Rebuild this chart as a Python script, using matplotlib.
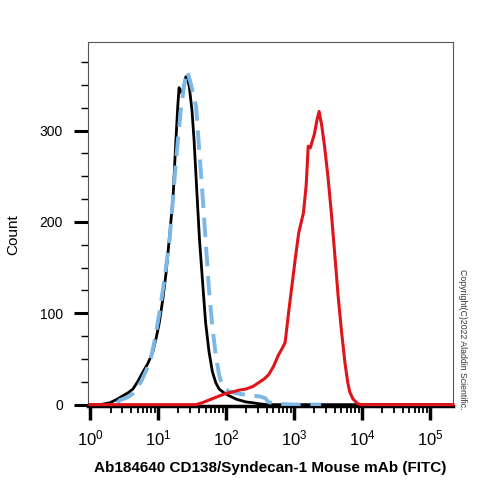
import numpy as np
import matplotlib.pyplot as plt
from matplotlib.ticker import FixedLocator, NullFormatter

plt.rcParams['font.family'] = ['Liberation Sans', 'DejaVu Sans']
plt.rcParams['mathtext.fontset'] = 'custom'
plt.rcParams['mathtext.rm'] = 'Liberation Sans'
plt.rcParams['mathtext.it'] = 'Liberation Sans'

# log10 positions and counts
black_log = [0.0, 0.15, 0.22, 0.29, 0.40, 0.49, 0.56, 0.63, 0.70, 0.78, 0.85, 0.92, 0.97, 1.02,
             1.07, 1.12, 1.17, 1.22, 1.26, 1.29, 1.31, 1.33, 1.36, 1.39, 1.41, 1.44, 1.46, 1.50,
             1.53, 1.57, 1.61, 1.66, 1.70, 1.75, 1.80, 1.85, 1.90, 1.97, 2.04, 2.15, 2.29, 2.40,
             2.48, 2.60, 5.34]
black_cnt = [0, 0, 1, 2, 6, 10, 13, 17, 25, 36, 45, 57, 72, 90,
             115, 145, 185, 225, 285, 326, 347, 342, 343, 352, 359, 355, 348, 322,
             290, 235, 181, 130, 90, 58, 36, 24, 17, 13, 10, 6, 3, 2,
             1, 0, 0]

blue_log = [0.40, 0.44, 0.55, 0.63, 0.75, 0.88, 0.95, 1.02, 1.10, 1.17, 1.22, 1.27, 1.34,
            1.39, 1.43, 1.47, 1.52, 1.56, 1.60, 1.65, 1.70, 1.75, 1.80, 1.85, 1.90, 1.95,
            2.05, 2.19, 2.35, 2.50, 2.58, 2.62, 2.70, 3.00, 3.40]
blue_cnt = [2, 5, 8, 12, 25, 46, 70, 100, 140, 181, 225, 272, 326,
            352, 365, 355, 340, 326, 285, 235, 180, 126, 85, 54, 32, 20,
            14, 12, 10, 9, 7, 3, 1, 0, 0]

red_log = [0.0, 1.56, 1.65, 1.75, 1.85, 1.99, 2.10, 2.20, 2.29, 2.40, 2.48, 2.56, 2.63, 2.70,
           2.77, 2.83, 2.87, 2.92, 2.97, 3.02, 3.07, 3.14, 3.18, 3.21, 3.24, 3.26, 3.30,
           3.34, 3.37, 3.41, 3.45, 3.50, 3.55, 3.60, 3.65, 3.70, 3.75, 3.79, 3.82, 3.87,
           3.94, 3.99, 5.34]
red_cnt = [0, 0, 2, 5, 8, 12, 14, 16, 17, 20, 24, 28, 33, 42,
           54, 62, 68, 100, 130, 160, 188, 210, 240, 283, 281, 286, 296,
           312, 321, 305, 283, 250, 210, 165, 119, 80, 46, 25, 14, 6,
           1, 0, 0]

xlabel = 'Ab184640 CD138/Syndecan-1 Mouse mAb (FITC)'
ylabel = 'Count'
copyright_text = 'Copyright(C)2022 Aladdin Scientific.'

fig = plt.figure(figsize=(5, 5), dpi=100)
ax = fig.add_axes([0.176, 0.188, 0.73, 0.728])

ax.plot(10 ** np.array(black_log), black_cnt, color='black', lw=2.0, zorder=3)
ax.plot(10 ** np.array(blue_log), blue_cnt, color='#7db7e6', lw=2.8,
        dashes=(5, 2.5), zorder=4)
ax.plot(10 ** np.array(red_log), red_cnt, color='#e0141b', lw=2.2, zorder=5, clip_on=False)

ax.set_xscale('log')
ax.set_xlim(10 ** -0.03, 10 ** 5.34)
ax.set_ylim(-1.5, 397)

# x ticks
ax.xaxis.set_major_locator(FixedLocator([10 ** k for k in range(6)]))
ax.xaxis.set_minor_locator(FixedLocator([m * 10 ** k for k in range(5) for m in range(2, 10)]))
ax.xaxis.set_minor_formatter(NullFormatter())
ax.set_xticklabels([r'$10^{%d}$' % k for k in range(6)])
ax.tick_params(axis='x', which='major', length=10, width=2.5, labelsize=12, pad=6)
ax.tick_params(axis='x', which='minor', length=5, width=1.3)

# y ticks
ax.set_yticks([0, 100, 200, 300])
ax.yaxis.set_minor_locator(FixedLocator([25, 50, 75, 125, 150, 175, 225, 250, 275, 325, 350, 375]))
ax.tick_params(axis='y', which='major', length=10, width=2.2, labelsize=10, pad=8)
ax.tick_params(axis='y', which='minor', length=5, width=1.0)

for side in ['left', 'top', 'right']:
    ax.spines[side].set_color('#555555')
    ax.spines[side].set_linewidth(0.8)
ax.spines['bottom'].set_color('black')
ax.spines['bottom'].set_linewidth(2.5)

ax.set_xlabel(xlabel, fontsize=11, fontweight='bold', labelpad=9)
ax.set_ylabel(ylabel, fontsize=11)
ax.yaxis.set_label_coords(-0.186, 0.47)

fig.text(0.924, 0.322, copyright_text, rotation=-90, fontsize=6.3,
         ha='center', va='center', color='#333333')

plt.savefig('out.png', dpi=100)
